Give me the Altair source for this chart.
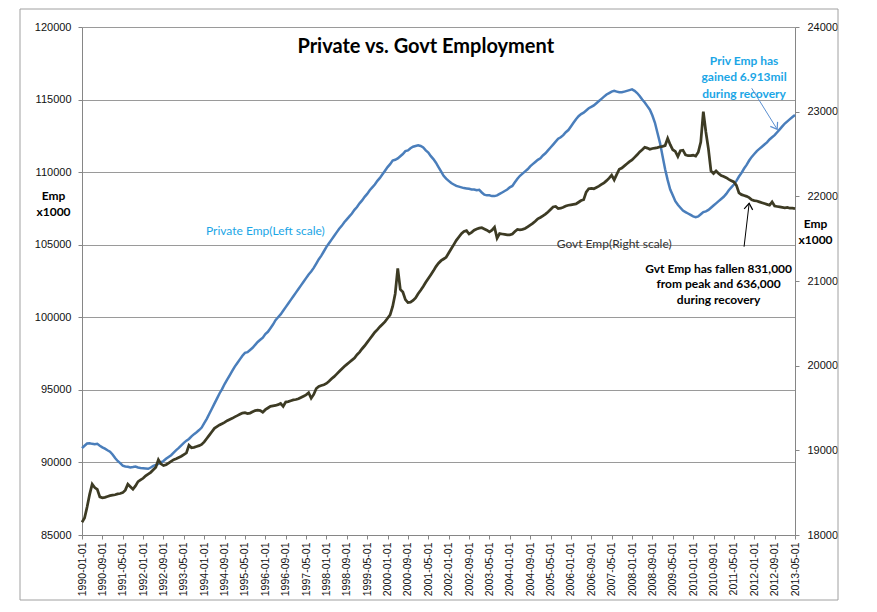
import altair as alt
import pandas as pd

# ---------------- data ----------------
months = [f"{y}-{m:02d}-01" for y in range(1990, 2014) for m in range(1, 13)][:281]
tick_labels = months[::8]

private = [
    # 1990
    90980, 91150, 91300, 91320, 91280, 91250, 91280, 91150, 91040, 90950, 90840, 90740,
    # 1991
    90550, 90300, 90100, 89950, 89780, 89720, 89700, 89650, 89680, 89720, 89650, 89620,
    # 1992
    89600, 89580, 89560, 89650, 89760, 89820, 89900, 90000, 90100, 90250, 90380, 90500,
    # 1993
    90680, 90850, 91000, 91180, 91350, 91500, 91620, 91800, 91950, 92080, 92230, 92400,
    # 1994
    92700, 93000, 93350, 93700, 94050, 94400, 94750, 95050, 95400, 95700, 96000, 96300,
    # 1995
    96600, 96850, 97100, 97350, 97550, 97600, 97750, 97900, 98100, 98300, 98450, 98600,
    # 1996
    98850, 99000, 99250, 99500, 99800, 100000, 100200, 100450, 100700, 100950, 101200, 101450,
    # 1997
    101700, 101950, 102200, 102450, 102700, 102950, 103150, 103400, 103700, 104000, 104250, 104550,
    # 1998
    104850, 105100, 105350, 105600, 105850, 106100, 106300, 106550, 106750, 106950, 107150, 107400,
    # 1999
    107600, 107850, 108050, 108300, 108500, 108750, 108950, 109150, 109400, 109600, 109850, 110100,
    # 2000
    110350, 110550, 110800, 110850, 110950, 111100, 111250, 111450, 111500, 111650, 111750, 111800,
    # 2001
    111850, 111800, 111700, 111500, 111350, 111100, 110900, 110650, 110350, 110050, 109750, 109550,
    # 2002
    109400, 109250, 109150, 109050, 109000, 108950, 108900, 108880, 108850, 108800, 108800, 108750,
    # 2003
    108780, 108600, 108450, 108400, 108400, 108350, 108350, 108400, 108500, 108600, 108700, 108800,
    # 2004
    108950, 109050, 109300, 109550, 109750, 109900, 110050, 110200, 110400, 110550, 110700, 110850,
    # 2005
    110950, 111150, 111300, 111500, 111700, 111900, 112100, 112300, 112400, 112550, 112750, 112900,
    # 2006
    113150, 113400, 113650, 113850, 114000, 114100, 114250, 114400, 114500, 114600, 114750, 114900,
    # 2007
    115050, 115200, 115350, 115450, 115550, 115600, 115550, 115500, 115500, 115550, 115600, 115650,
    # 2008
    115700, 115600, 115450, 115250, 115000, 114800, 114550, 114300, 113900, 113400, 112700, 112000,
    # 2009
    111100, 110200, 109450, 108800, 108400, 108000, 107750, 107550, 107350, 107250, 107150, 107050,
    # 2010
    106950, 106900, 106950, 107100, 107250, 107300, 107400, 107550, 107700, 107850, 108000, 108150,
    # 2011
    108300, 108500, 108750, 108950, 109150, 109400, 109700, 109950, 110250, 110500, 110800, 111050,
    # 2012
    111250, 111450, 111600, 111750, 111900, 112050, 112250, 112400, 112550, 112750, 112950, 113150,
    # 2013
    113350, 113500, 113650, 113800, 113940,
]

govt = [
    # 1990
    18150, 18200, 18330, 18480, 18600, 18560, 18540, 18450, 18440, 18445, 18455, 18465,
    # 1991
    18470, 18475, 18485, 18490, 18500, 18530, 18600, 18570, 18540, 18580, 18630, 18650,
    # 1992
    18670, 18700, 18720, 18740, 18770, 18800, 18890, 18840, 18820, 18830, 18850, 18870,
    # 1993
    18890, 18900, 18915, 18930, 18950, 18970, 19060, 19030, 19035, 19045, 19055, 19070,
    # 1994
    19100, 19140, 19180, 19220, 19260, 19280, 19300, 19315, 19330, 19350, 19365, 19378,
    # 1995
    19395, 19410, 19425, 19440, 19445, 19435, 19440, 19455, 19470, 19475, 19470, 19450,
    # 1996
    19480, 19500, 19520, 19525, 19530, 19540, 19555, 19520, 19570, 19575, 19585, 19595,
    # 1997
    19600, 19610, 19625, 19640, 19655, 19680, 19615, 19660, 19730, 19755, 19765, 19775,
    # 1998
    19790, 19815, 19845, 19870, 19900, 19930, 19960, 19990, 20015, 20040, 20065, 20090,
    # 1999
    20130, 20160, 20200, 20235, 20275, 20315, 20355, 20395, 20425, 20460, 20490, 20520,
    # 2000
    20560, 20600, 20700, 20850, 21150, 20900, 20870, 20780, 20745, 20750, 20770, 20800,
    # 2001
    20850, 20890, 20935, 20985, 21030, 21075, 21120, 21170, 21210, 21240, 21260, 21280,
    # 2002
    21330, 21380, 21430, 21480, 21520, 21560, 21585, 21595, 21555, 21575, 21600, 21615,
    # 2003
    21625, 21630, 21615, 21600, 21580, 21600, 21635, 21505, 21560, 21555, 21550, 21545,
    # 2004
    21545, 21555, 21585, 21610, 21605, 21610, 21620, 21640, 21660, 21680, 21705, 21735,
    # 2005
    21750, 21770, 21790, 21815, 21845, 21875, 21880, 21855, 21860, 21870, 21885, 21895,
    # 2006
    21900, 21905, 21910, 21930, 21950, 21960, 22050, 22090, 22095, 22090, 22105, 22120,
    # 2007
    22140, 22160, 22185, 22215, 22250, 22195, 22260, 22320, 22335, 22360, 22385, 22410,
    # 2008
    22430, 22460, 22490, 22525, 22550, 22580, 22570, 22555, 22565, 22570, 22575, 22585,
    # 2009
    22590, 22600, 22685, 22610, 22550, 22530, 22470, 22540, 22545, 22490, 22480, 22480,
    # 2010
    22485, 22475, 22520, 22640, 23000, 22760, 22560, 22300, 22270, 22300, 22270, 22245,
    # 2011
    22235, 22220, 22200, 22185, 22170, 22130, 22040, 22020, 22010, 22000, 21985, 21960,
    # 2012
    21950, 21945, 21935, 21925, 21915, 21905, 21895, 21935, 21885, 21880, 21875, 21870,
    # 2013
    21865, 21870, 21860, 21860, 21855,
]

left_ticks = [85000, 90000, 95000, 100000, 105000, 110000, 115000, 120000]
right_ticks = [18000, 19000, 20000, 21000, 22000, 23000, 24000]

title_text = "Private vs. Govt Employment"
priv_label = "Private Emp(Left scale)"
govt_label = "Govt Emp(Right scale)"
priv_note = "Priv Emp has\ngained 6.913mil\nduring recovery"
govt_note = "Gvt Emp has fallen 831,000\nfrom peak and 636,000\nduring recovery"

# annotation anchors (month, value on the relevant axis)
title_pos = ("2001-04-01", 118623)
priv_label_pos = ("1996-01-01", 105950)
priv_note_pos = ("2011-09-01", 117660)
priv_arrow = ("2011-12-01", 115780, "2012-10-01", 112950)
govt_label_pos = ("2007-06-01", 21437)
govt_note_pos = ("2010-11-01", 21142)
govt_arrow = ("2011-09-01", 21405, "2011-11-01", 21918)

df = pd.DataFrame({"month": months, "private": private, "govt": govt})

LEFT_DOMAIN = [85000, 120000]
RIGHT_DOMAIN = [18000, 24000]
AXIS_GRAY = "#868686"
LABEL_FONT = "Liberation Sans"
NOTE_FONT = "Lato"
PRIV_BLUE = "#4a7ebb"
GOVT_DARK = "#3d3b24"
CYAN = "#1ba6e6"

x_scale = alt.Scale(type="point", padding=0, domain=months)
left_scale = alt.Scale(domain=LEFT_DOMAIN, nice=False, zero=False)
right_scale = alt.Scale(domain=RIGHT_DOMAIN, nice=False, zero=False)

x_axis = alt.Axis(
    values=tick_labels, labelAngle=270, labelFont=LABEL_FONT, labelFontSize=10.5,
    labelColor="#111", labelPadding=3, tickSize=4, tickColor=AXIS_GRAY,
    domainColor=AXIS_GRAY, labelOverlap=False, grid=False, orient="bottom", title=None,
)
left_axis = alt.Axis(
    orient="left", values=left_ticks, format="d", labelFont=LABEL_FONT, labelFontSize=11,
    labelColor="#111", labelPadding=7, tickSize=4, tickColor=AXIS_GRAY, domainColor=AXIS_GRAY,
    grid=True, gridColor="#9a9a9a", gridWidth=1,
    title=["Emp", "x1000"], titleAngle=0, titleX=-29, titleY=163, titleAlign="center",
    titleBaseline="top", titleFont=NOTE_FONT, titleFontWeight="bold", titleFontSize=12,
    titleLineHeight=16, titleColor="#000",
)
right_axis = alt.Axis(
    orient="right", values=right_ticks, format="d", labelFont=LABEL_FONT, labelFontSize=11,
    labelColor="#111", labelPadding=8, tickSize=4, tickColor=AXIS_GRAY, domainColor=AXIS_GRAY,
    grid=False,
    title=["Emp", "x1000"], titleAngle=0, titleX=20, titleY=191, titleAlign="center",
    titleBaseline="top", titleFont=NOTE_FONT, titleFontWeight="bold", titleFontSize=12,
    titleLineHeight=16, titleColor="#000",
)

X = alt.X("month:O", scale=x_scale, axis=x_axis)
Y_LEFT = alt.Y("private:Q", scale=left_scale, axis=left_axis)
Y_RIGHT = alt.Y("govt:Q", scale=right_scale, axis=right_axis)


def text_layer(pos, text, field, yenc, **style):
    d = pd.DataFrame({"month": [pos[0]], field: [pos[1]], "t": [text]})
    return alt.Chart(d).mark_text(lineBreak="\n", **style).encode(x=X, y=yenc, text="t:N")


def arrow_layers(arr, field, yenc, color, angle):
    d = pd.DataFrame({"month": [arr[0]], field: [arr[1]], "m1": [arr[2]], "v1": [arr[3]]})
    rule = alt.Chart(d).mark_rule(color=color, strokeWidth=1).encode(
        x=X, x2="m1:O", y=yenc, y2="v1:Q"
    )
    d2 = pd.DataFrame({"month": [arr[2]], field: [arr[3]]})
    head = alt.Chart(d2).mark_point(
        shape="M -0.7 1 L 0 0 L 0.7 1", filled=False, stroke=color, strokeWidth=1.2,
        size=150, angle=angle, opacity=1,
    ).encode(x=X, y=yenc)
    return [rule, head]


# ---------------- left (private) layer ----------------
private_line = alt.Chart(df).mark_line(color=PRIV_BLUE, strokeWidth=2.5).encode(x=X, y=Y_LEFT)

title_mark = text_layer(title_pos, title_text, "private", Y_LEFT, font=NOTE_FONT, fontSize=20,
                        fontWeight="bold", color="#000", align="center", baseline="middle")
priv_label_mark = text_layer(priv_label_pos, priv_label, "private", Y_LEFT, font=NOTE_FONT,
                             fontSize=12, color=CYAN, align="center", baseline="middle")
priv_note_mark = text_layer(priv_note_pos, priv_note, "private", Y_LEFT, font=NOTE_FONT,
                            fontSize=12, fontWeight="bold", color=CYAN, align="center",
                            baseline="middle", lineHeight=16.5)

frame = alt.Chart(alt.Data(values=[{}])).mark_rect(
    filled=False, stroke="#a0a0a0", strokeWidth=1
).encode(x=alt.value(-62), x2=alt.value(756), y=alt.value(-18), y2=alt.value(573))

left_layer = alt.layer(
    private_line, title_mark, priv_label_mark, priv_note_mark,
    *arrow_layers(priv_arrow, "private", Y_LEFT, "#5b8fd0", 148),
)

# ---------------- right (government) layer ----------------
govt_line = alt.Chart(df).mark_line(color=GOVT_DARK, strokeWidth=2.75).encode(x=X, y=Y_RIGHT)
govt_label_mark = text_layer(govt_label_pos, govt_label, "govt", Y_RIGHT, font=NOTE_FONT,
                             fontSize=12, color="#333", align="center", baseline="middle")
govt_note_mark = text_layer(govt_note_pos, govt_note, "govt", Y_RIGHT, font=NOTE_FONT,
                            fontSize=12, fontWeight="bold", color="#000", align="center",
                            baseline="middle", lineHeight=15.5)

right_layer = alt.layer(
    govt_line, govt_label_mark, govt_note_mark,
    *arrow_layers(govt_arrow, "govt", Y_RIGHT, "#000", 7),
)

chart = alt.layer(left_layer, right_layer, frame).resolve_scale(y="independent").properties(
    width=713, height=508,
    autosize=alt.AutoSizeParams(type="none"),
    padding={"left": 74, "top": 19, "right": 60, "bottom": 70},
    background="white",
).configure_view(strokeWidth=0)

chart.save("out.html", embed_options={"renderer": "svg", "actions": False})
